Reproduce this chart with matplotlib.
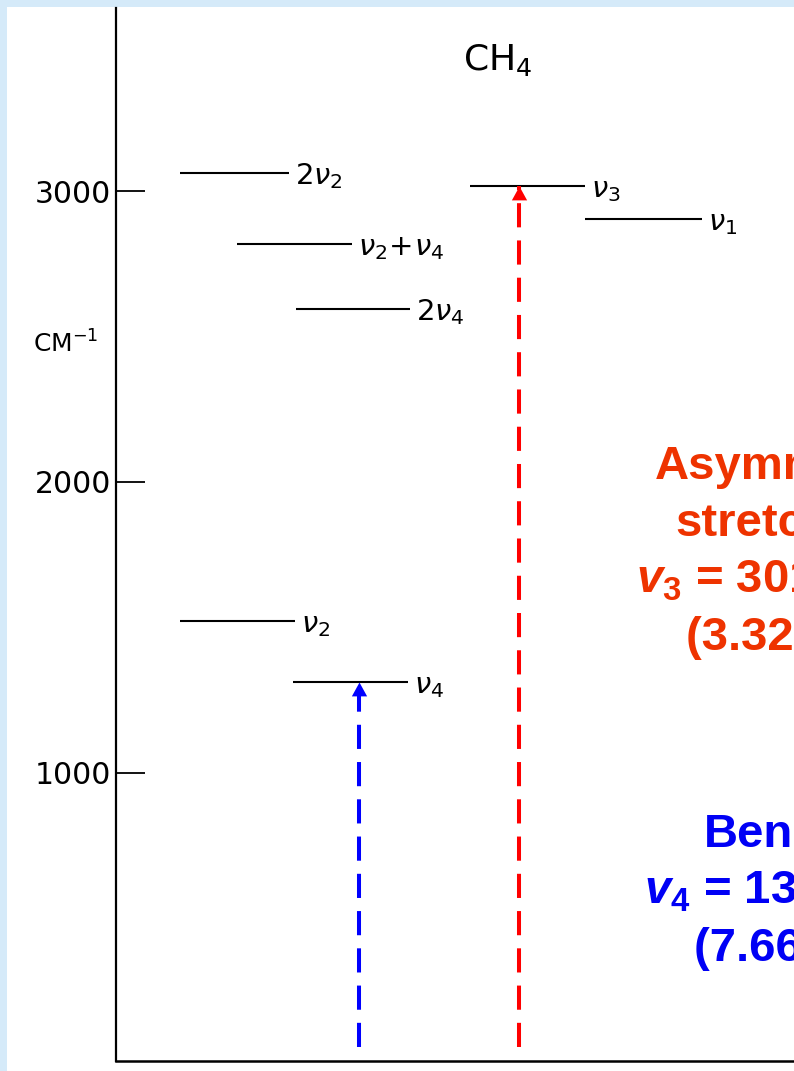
import matplotlib
matplotlib.use('Agg')
import matplotlib.pyplot as plt
from matplotlib.path import Path
from matplotlib.patches import Rectangle
from matplotlib.transforms import ScaledTranslation

# ---------------- data ----------------
level_names = ['2v2', 'v2+v4', '2v4', 'v3', 'v1', 'v2', 'v4']
level_labels = [r'$2\nu_2$', r'$\nu_2\!+\!\nu_4$', r'$2\nu_4$', r'$\nu_3$',
                r'$\nu_1$', r'$\nu_2$', r'$\nu_4$']
level_energy = [3062, 2818, 2595, 3017, 2904, 1522, 1313]      # cm^-1
level_x_start = [0.64, 1.21, 1.80, 3.54, 4.69, 0.64, 1.77]     # schematic column
level_x_end = [1.73, 2.36, 2.94, 4.69, 5.86, 1.79, 2.92]

y_ticks = [1000, 2000, 3000]
y_tick_labels = ['1000', '2000', '3000']

arrow_x = [4.03, 2.43]
arrow_level = ['v3', 'v4']
arrow_bottom = 58
arrow_colors = ['#FF0000', '#0000FF']

red_lines = ['Asymmetric', 'stretching', r'$v_3$ = 3019 cm$^{-1}$', '(3.32 μm)']
blue_lines = ['Bending', r'$v_4$ = 1306 cm$^{-1}$', '(7.66 μm)']

# ---------------- style ----------------
plt.rcParams['font.family'] = ['DejaVu Sans']
plt.rcParams['mathtext.fontset'] = 'custom'
plt.rcParams['mathtext.rm'] = 'Liberation Sans:bold'
plt.rcParams['mathtext.it'] = 'Liberation Sans:bold:italic'
plt.rcParams['mathtext.bf'] = 'Liberation Sans:bold'
plt.rcParams['mathtext.sf'] = 'Liberation Sans:bold'

W, H = 794, 1071
fig = plt.figure(figsize=(W / 100, H / 100), dpi=100)
fig.patch.set_facecolor('#D5EAF9')
fig.patches.append(Rectangle((7 / W, 0), 1, (H - 7) / H, transform=fig.transFigure,
                             facecolor='white', edgecolor='none', zorder=-10))


def fx(x):
    return x / W


def fy(y):
    return 1 - y / H


ax = fig.add_axes([116 / W, (H - 1061) / H, (W - 116) / W, (1061 - 8) / H])
ax.set_zorder(1)
ax.set_facecolor('none')
ax.set_xlim(0, 6.78)
ax.set_ylim(10, 3629)
ax.spines['top'].set_visible(False)
ax.spines['right'].set_visible(False)
ax.spines['left'].set_linewidth(1.6)
ax.spines['bottom'].set_linewidth(1.8)
ax.set_xticks([])
ax.set_yticks(y_ticks)
ax.set_yticklabels(y_tick_labels)
ax.tick_params(axis='y', direction='in', length=21, width=1.3, pad=3.5,
               labelsize=21.5, colors='black')

# energy levels
ax.hlines(level_energy, level_x_start, level_x_end, color='black', lw=1.5, zorder=3)
lab_tr = ax.transData + ScaledTranslation(0, -11 / 100, fig.dpi_scale_trans)
for lab, e, xe in zip(level_labels, level_energy, level_x_end):
    ax.text(xe + 0.06, e, lab, transform=lab_tr, ha='left', va='baseline',
            fontsize=21, math_fontfamily='dejavusans', color='black')

# arrows
head = Path([(0, 0), (-0.55, -1), (0.55, -1), (0, 0)],
            [Path.MOVETO, Path.LINETO, Path.LINETO, Path.CLOSEPOLY])
for x, name, c in zip(arrow_x, arrow_level, arrow_colors):
    top = level_energy[level_names.index(name)]
    ax.plot([x, x], [arrow_bottom, top], color=c, lw=2.9, dashes=(6, 3.25),
            dash_capstyle='butt', zorder=4)
    ax.plot([x], [top], marker=head, ms=20, color=c, mew=0, zorder=5, ls='none')

# titles
fig.text(fx(463), fy(70), r'CH$_4$', fontsize=26, ha='left', va='baseline',
         math_fontfamily='dejavusans')
fig.text(fx(33), fy(353), r'CM$^{-1}$', fontsize=18, ha='left', va='baseline',
         math_fontfamily='dejavusans')

# coloured annotations (cut off by the right edge, as in the original slide)
red_cx = [790, 790, 799, 790]
for txt, yb, cx in zip(red_lines, [479, 536, 593, 650], red_cx):
    fig.text(fx(cx), fy(yb), txt, fontsize=34, fontweight='bold',
             family='Liberation Sans', color='#EE3300', ha='center', va='baseline',
             math_fontfamily='custom')
blue_cx = [798, 807, 798]
for txt, yb, cx in zip(blue_lines, [847, 904, 961], blue_cx):
    fig.text(fx(cx), fy(yb), txt, fontsize=34, fontweight='bold',
             family='Liberation Sans', color='#0000F5', ha='center', va='baseline',
             math_fontfamily='custom')

fig.savefig('out.png', dpi=100, facecolor=fig.get_facecolor())
